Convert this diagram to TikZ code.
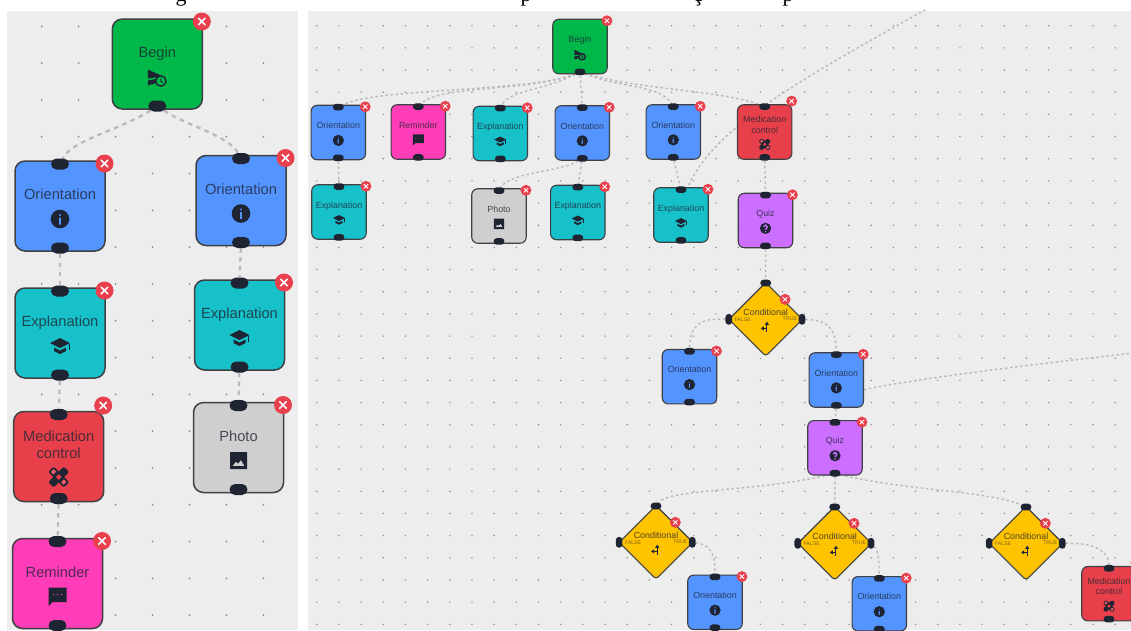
\documentclass[tikz,border=0pt]{standalone}
\usepackage{fontspec}
\setmainfont{Liberation Sans}
\newfontfamily\captionfont{Liberation Serif}
\usetikzlibrary{shapes.misc}
\definecolor{panelcol}{HTML}{EDEDED}
\definecolor{dotcol}{HTML}{8C8C8C}
\definecolor{linkcol}{HTML}{B9B9BE}
\definecolor{boxline}{HTML}{3E4044}
\definecolor{handlecol}{HTML}{1F2433}
\definecolor{closecol}{HTML}{E8404C}
\definecolor{startcol}{HTML}{00B74A}
\definecolor{oricol}{HTML}{5394FF}
\definecolor{explcol}{HTML}{17C1C9}
\definecolor{medcol}{HTML}{E8404A}
\definecolor{remcol}{HTML}{FF3DB8}
\definecolor{photocol}{HTML}{CFCFCF}
\definecolor{quizcol}{HTML}{CC6EFF}
\definecolor{condcol}{HTML}{FFC300}
\pgfdeclarelayer{gridlayer}
\pgfdeclarelayer{edgelayer}
\pgfsetlayers{gridlayer,edgelayer,main}
\tikzset{
    griddot/.style={fill=dotcol},
    boxshape/.style={rectangle, draw=boxline, minimum size=90pt, inner sep=0pt},
    condshape/.style={rectangle, draw=boxline, fill=condcol, minimum size=86pt, inner sep=0pt, rotate=45, line width=1.1pt, rounded corners=3pt},
    boxlabel/.style={align=center, inner sep=0pt, text=handlecol, text opacity=.78, font=\fontsize{14.7}{17}\selectfont},
    branchlabel/.style={inner sep=0pt, text=handlecol, text opacity=.55, font=\fontsize{8.7}{10}\selectfont},
    captext/.style={anchor=base, inner sep=0pt, font=\captionfont\fontsize{22}{24}\selectfont},
    handle/.style={rounded rectangle, fill=handlecol, minimum width=18pt, minimum height=11pt, inner sep=0pt},
    closedot/.style={circle, fill=closecol, minimum size=18pt, inner sep=0pt},
    closemark/.style={white, line cap=round},
    iconfill/.style={fill=handlecol},
    biglink/.style={draw=linkcol, line width=2.3pt, dash pattern=on 4.5pt off 4.5pt},
    smalllink/.style={draw=linkcol, line width=1.4pt, dash pattern=on 2.5pt off 2.6pt},
    bigview/.style={flowscale/.style={scale=1, transform shape},
        boxshape/.append style={line width=1.5pt, rounded corners=10pt},
        closemark/.append style={line width=1.5pt}},
    smallview/.style={flowscale/.style={scale=.605, transform shape},
        boxshape/.append style={line width=1.1pt, rounded corners=6pt},
        closemark/.append style={line width=.9pt}},
    starticon/.pic={
        \fill[iconfill] (-9.5,-7.5) -- (6,-.5) -- (-9.5,1.5) -- cycle;
        \fill[iconfill] (-9.5,3.5) -- (-1,2) -- (-1,6) -- (-9.5,8.5) -- cycle;
        \draw[draw=handlecol, fill=startcol, line width=1.4pt] (3.5,4) circle (5.2);
        \draw[handlecol, line width=1pt] (3.5,1.3) -- (3.5,4.3) -- (5.7,5.5);
    },
    infoicon/.pic={
        \fill[iconfill, even odd rule] (0,0) circle (9.3) (-1.1,-1.5) rectangle (1.1,5.5) (0,-4) circle (1.3);
    },
    quizicon/.pic={
        \fill[iconfill] (0,0) circle (9.3);
        \draw[quizcol, line width=1.3pt] (-3,-2.5) arc[start angle=180, end angle=420, radius=3] -- (0,2.5);
        \fill[quizcol] (0,5.5) circle (1.3);
    },
    capicon/.pic={
        \fill[iconfill] (-10,-3) -- (0,-8) -- (10,-3) -- (0,2) -- cycle;
        \fill[iconfill] (-6,1.5) -- (0,4.5) -- (6,1.5) -- (6,5) -- (0,8) -- (-6,5) -- cycle;
        \fill[iconfill] (8.5,-2.5) rectangle (9.8,4);
    },
    photoicon/.pic={
        \fill[iconfill, even odd rule] (-8.5,-8.5) rectangle (8.5,8.5)
            (-6,5.5) -- (-2.5,1) -- (-.5,3) -- (2.5,-.5) -- (6,5.5) -- cycle;
    },
    chaticon/.pic={
        \fill[iconfill, even odd rule] (-9,-9) -- (9,-9) -- (9,5.5) -- (-5,5.5) -- (-9,9.5) -- cycle
            (-4,-2) circle (1) (0,-2) circle (1) (4,-2) circle (1);
    },
    bandicon/.pic={
        \begin{scope}[shift={(0,7.5)}]
            \fill[iconfill, rotate=45, rounded corners=2pt] (-11,-3.8) rectangle (11,3.8);
            \fill[iconfill, rotate=-45, rounded corners=2pt] (-11,-3.8) rectangle (11,3.8);
            \fill[white!15!medcol, rotate=-45] (5.5,-2) rectangle (9,2) (-9,-2) rectangle (-5.5,2);
            \fill[medcol, rotate=45] (-2,-2) rectangle (2,2);
        \end{scope}
    },
    spliticon/.pic={
        \draw[handlecol, line width=1pt] (2,8) -- (2,-5) (2,2) -- (-4,2);
        \fill[iconfill] (-1.5,-4) -- (2,-9) -- (5.5,-4) -- cycle;
        \fill[iconfill] (-3,-1.5) -- (-8,2) -- (-3,5.5) -- cycle;
    },
}
% body, text, icon, close button and lower handle
\newcommand{\flowbody}[6][-42.5]{
    \begin{scope}[shift={#3}, flowscale]
        \node[boxshape, fill=#4] (#2) at (0,0) {};
        \node[boxlabel] (#2-text) at (0,-10.3) {\vphantom{Ap}#5\vphantom{p}};
        \pic at (0,13) {#6};
        \node[handle] (#2-b) at (0,42) {};
        \node[closedot] (#2-x) at (44.5,#1) {};
        \draw[closemark] (#2-x.center) +(-3.4,-3.4) -- +(3.4,3.4) (#2-x.center) +(-3.4,3.4) -- +(3.4,-3.4);
    \end{scope}
}
\newcommand{\flowbox}[6][-42.5]{
    \flowbody[#1]{#2}{#3}{#4}{#5}{#6}
    \begin{scope}[shift={#3}, flowscale]
        \node[handle] (#2-t) at (0,-42) {};
    \end{scope}
}
\newcommand{\condbox}[2]{
    \begin{scope}[shift={#2}, flowscale]
        \node[condshape] (#1) at (0,0) {};
        \node[boxlabel] (#1-text) at (0,-11) {Conditional};
        \node[branchlabel] (#1-false) at (-38,1) {FALSE};
        \node[branchlabel] (#1-true) at (40,-1) {TRUE};
        \pic at (0,13) {spliticon};
        \node[handle] (#1-t) at (0,-60) {};
        \node[handle, rotate=90] (#1-l) at (-61,0) {};
        \node[handle, rotate=90] (#1-r) at (60,0) {};
        \node[closedot] (#1-x) at (32,-33) {};
        \draw[closemark] (#1-x.center) +(-3.4,-3.4) -- +(3.4,3.4) (#1-x.center) +(-3.4,3.4) -- +(3.4,-3.4);
    \end{scope}
}

\begin{document}
\begin{tikzpicture}[x=1pt, y=-1pt]
    \useasboundingbox (0,0) rectangle (1131,630);

    % panels and their dots
    \begin{pgfonlayer}{gridlayer}
        \fill[white] (0,0) rectangle (1131,630);
        \fill[panelcol] (7,11) rectangle (298,630);
        \fill[panelcol] (308,11) rectangle (1131,630);
        \foreach \i in {0,...,6} {
            \foreach \j in {0,...,16} {
                \fill[griddot] ({41.7+36.95*\i},{26.3+36.8*\j}) circle (1);
            }
        }
        \foreach \i in {0,...,37} {
            \foreach \j in {0,...,27} {
                \fill[griddot] ({316.7+22.18*\i},{25.7+22.17*\j}) circle (.8);
            }
        }
    \end{pgfonlayer}

    % caption cut off by the crop
    \node[captext] (capg) at (181,1) {g};
    \node[captext] (capp) at (526,1) {p};
    \node[captext] (capc) at (698,1) {ç};
    \node[captext] (capq) at (788,1) {p};

    %% Left panel
    \begin{scope}[bigview]
        \flowbody{lbegin}{(157.3,64)}{startcol}{Begin}{starticon}
        \flowbox{lori}{(60,206)}{oricol}{Orientation}{infoicon}
        \flowbox{lorib}{(241,200.5)}{oricol}{Orientation}{infoicon}
        \flowbox{lexpl}{(60,333)}{explcol}{Explanation}{capicon}
        \flowbox{lexplb}{(239.5,325)}{explcol}{Explanation}{capicon}
        \flowbox[-51]{lmed}{(58.7,456.5)}{medcol}{Medication\\control}{bandicon}
        \flowbox{lphoto}{(238.5,447.5)}{photocol}{Photo}{photoicon}
        \flowbox{lrem}{(57.5,583.5)}{remcol}{Reminder}{chaticon}
    \end{scope}

    \begin{pgfonlayer}{edgelayer}
        \draw[biglink] (lbegin-b) .. controls (120,130) and (72,140) .. (lori-t);
        \draw[biglink] (lbegin-b) .. controls (185,125) and (228,135) .. (lorib-t);
        \draw[biglink] (lori-b) -- (lexpl-t);
        \draw[biglink] (lorib-b) -- (lexplb-t);
        \draw[biglink] (lexpl-b) -- (lmed-t);
        \draw[biglink] (lexplb-b) -- (lphoto-t);
        \draw[biglink] (lmed-b) -- (lrem-t);
    \end{pgfonlayer}

    %% Right panel
    \begin{scope}[smallview]
        \flowbody{begin}{(580,46.5)}{startcol}{Begin}{starticon}
        % first row
        \flowbox{oria}{(338.3,132.5)}{oricol}{Orientation}{infoicon}
        \flowbox{rema}{(418.3,132)}{remcol}{Reminder}{chaticon}
        \flowbox{expla}{(500.3,133.5)}{explcol}{Explanation}{capicon}
        \flowbox{orib}{(582.3,133)}{oricol}{Orientation}{infoicon}
        \flowbox{oric}{(673.3,132)}{oricol}{Orientation}{infoicon}
        \flowbox[-51]{meda}{(764.7,132)}{medcol}{Medication\\control}{bandicon}
        % second row
        \flowbox{explb}{(339,212)}{explcol}{Explanation}{capicon}
        \flowbox{photoa}{(499,216)}{photocol}{Photo}{photoicon}
        \flowbox{explc}{(577.8,212.5)}{explcol}{Explanation}{capicon}
        \flowbox{expld}{(681,215)}{explcol}{Explanation}{capicon}
        \flowbox{quiza}{(765.5,220.5)}{quizcol}{Quiz}{quizicon}
        % first conditional
        \condbox{conda}{(765.7,319.3)}
        \flowbox{orid}{(689.5,376.7)}{oricol}{Orientation}{infoicon}
        \flowbox{orie}{(836.3,380)}{oricol}{Orientation}{infoicon}
        \flowbox{quizb}{(835,447.8)}{quizcol}{Quiz}{quizicon}
        % lower conditionals
        \condbox{condb}{(656,542.3)}
        \condbox{condc}{(834.7,543.3)}
        \condbox{condd}{(1026,543.3)}
        \flowbox{orif}{(715,602.3)}{oricol}{Orientation}{infoicon}
        \flowbox{orig}{(879.3,603.8)}{oricol}{Orientation}{infoicon}
        \flowbox[-51]{medb}{(1109,593.7)}{medcol}{Medication\\control}{bandicon}
    \end{scope}

    \coordinate (offtop) at (925,10);
    \coordinate (offright) at (1135,353);

    \begin{pgfonlayer}{edgelayer}
        \draw[smalllink] (begin-b) .. controls (530,92) and (375,88) .. (oria-t);
        \draw[smalllink] (begin-b) .. controls (530,92) and (440,85) .. (rema-t);
        \draw[smalllink] (begin-b) .. controls (545,90) and (510,90) .. (expla-t);
        \draw[smalllink] (begin-b) -- (orib-t);
        \draw[smalllink] (begin-b) .. controls (620,88) and (660,85) .. (oric-t);
        \draw[smalllink] (begin-b) .. controls (640,90) and (720,90) .. (meda-t);
        \draw[smalllink] (oria-b) -- (explb-t);
        \draw[smalllink] (orib-b) .. controls (560,172) and (510,172) .. (photoa-t);
        \draw[smalllink] (orib-b) -- (explc-t);
        \draw[smalllink] (oric-b) -- (expld-t);
        \draw[smalllink] (expld-t.east) .. controls (712,130) and (790,85) .. (offtop);
        \draw[smalllink] (meda-b) -- (quiza-t);
        \draw[smalllink] (quiza-b) -- (conda-t);
        \draw[smalllink] (conda-l) .. controls (700,318) and (690,325) .. (orid-t);
        \draw[smalllink] (conda-r) .. controls (825,320) and (836,325) .. (orie-t);
        \draw[smalllink] (orie-b) -- (quizb-t);
        \draw[smalllink] ([yshift=-10pt]orie.east) .. controls (880,385) and (980,370) .. (offright);
        \draw[smalllink] (quizb-b) .. controls (760,492) and (670,488) .. (condb-t);
        \draw[smalllink] (quizb-b) -- (condc-t);
        \draw[smalllink] (quizb-b) .. controls (900,490) and (990,491) .. (condd-t);
        \draw[smalllink] (condb-r) .. controls (712,545) and (715,555) .. (orif-t);
        \draw[smalllink] (condc-r) .. controls (878,550) and (879,560) .. (orig-t);
        \draw[smalllink] (condd-r) .. controls (1090,543) and (1108,548) .. (medb-t);
    \end{pgfonlayer}
\end{tikzpicture}
\end{document}
